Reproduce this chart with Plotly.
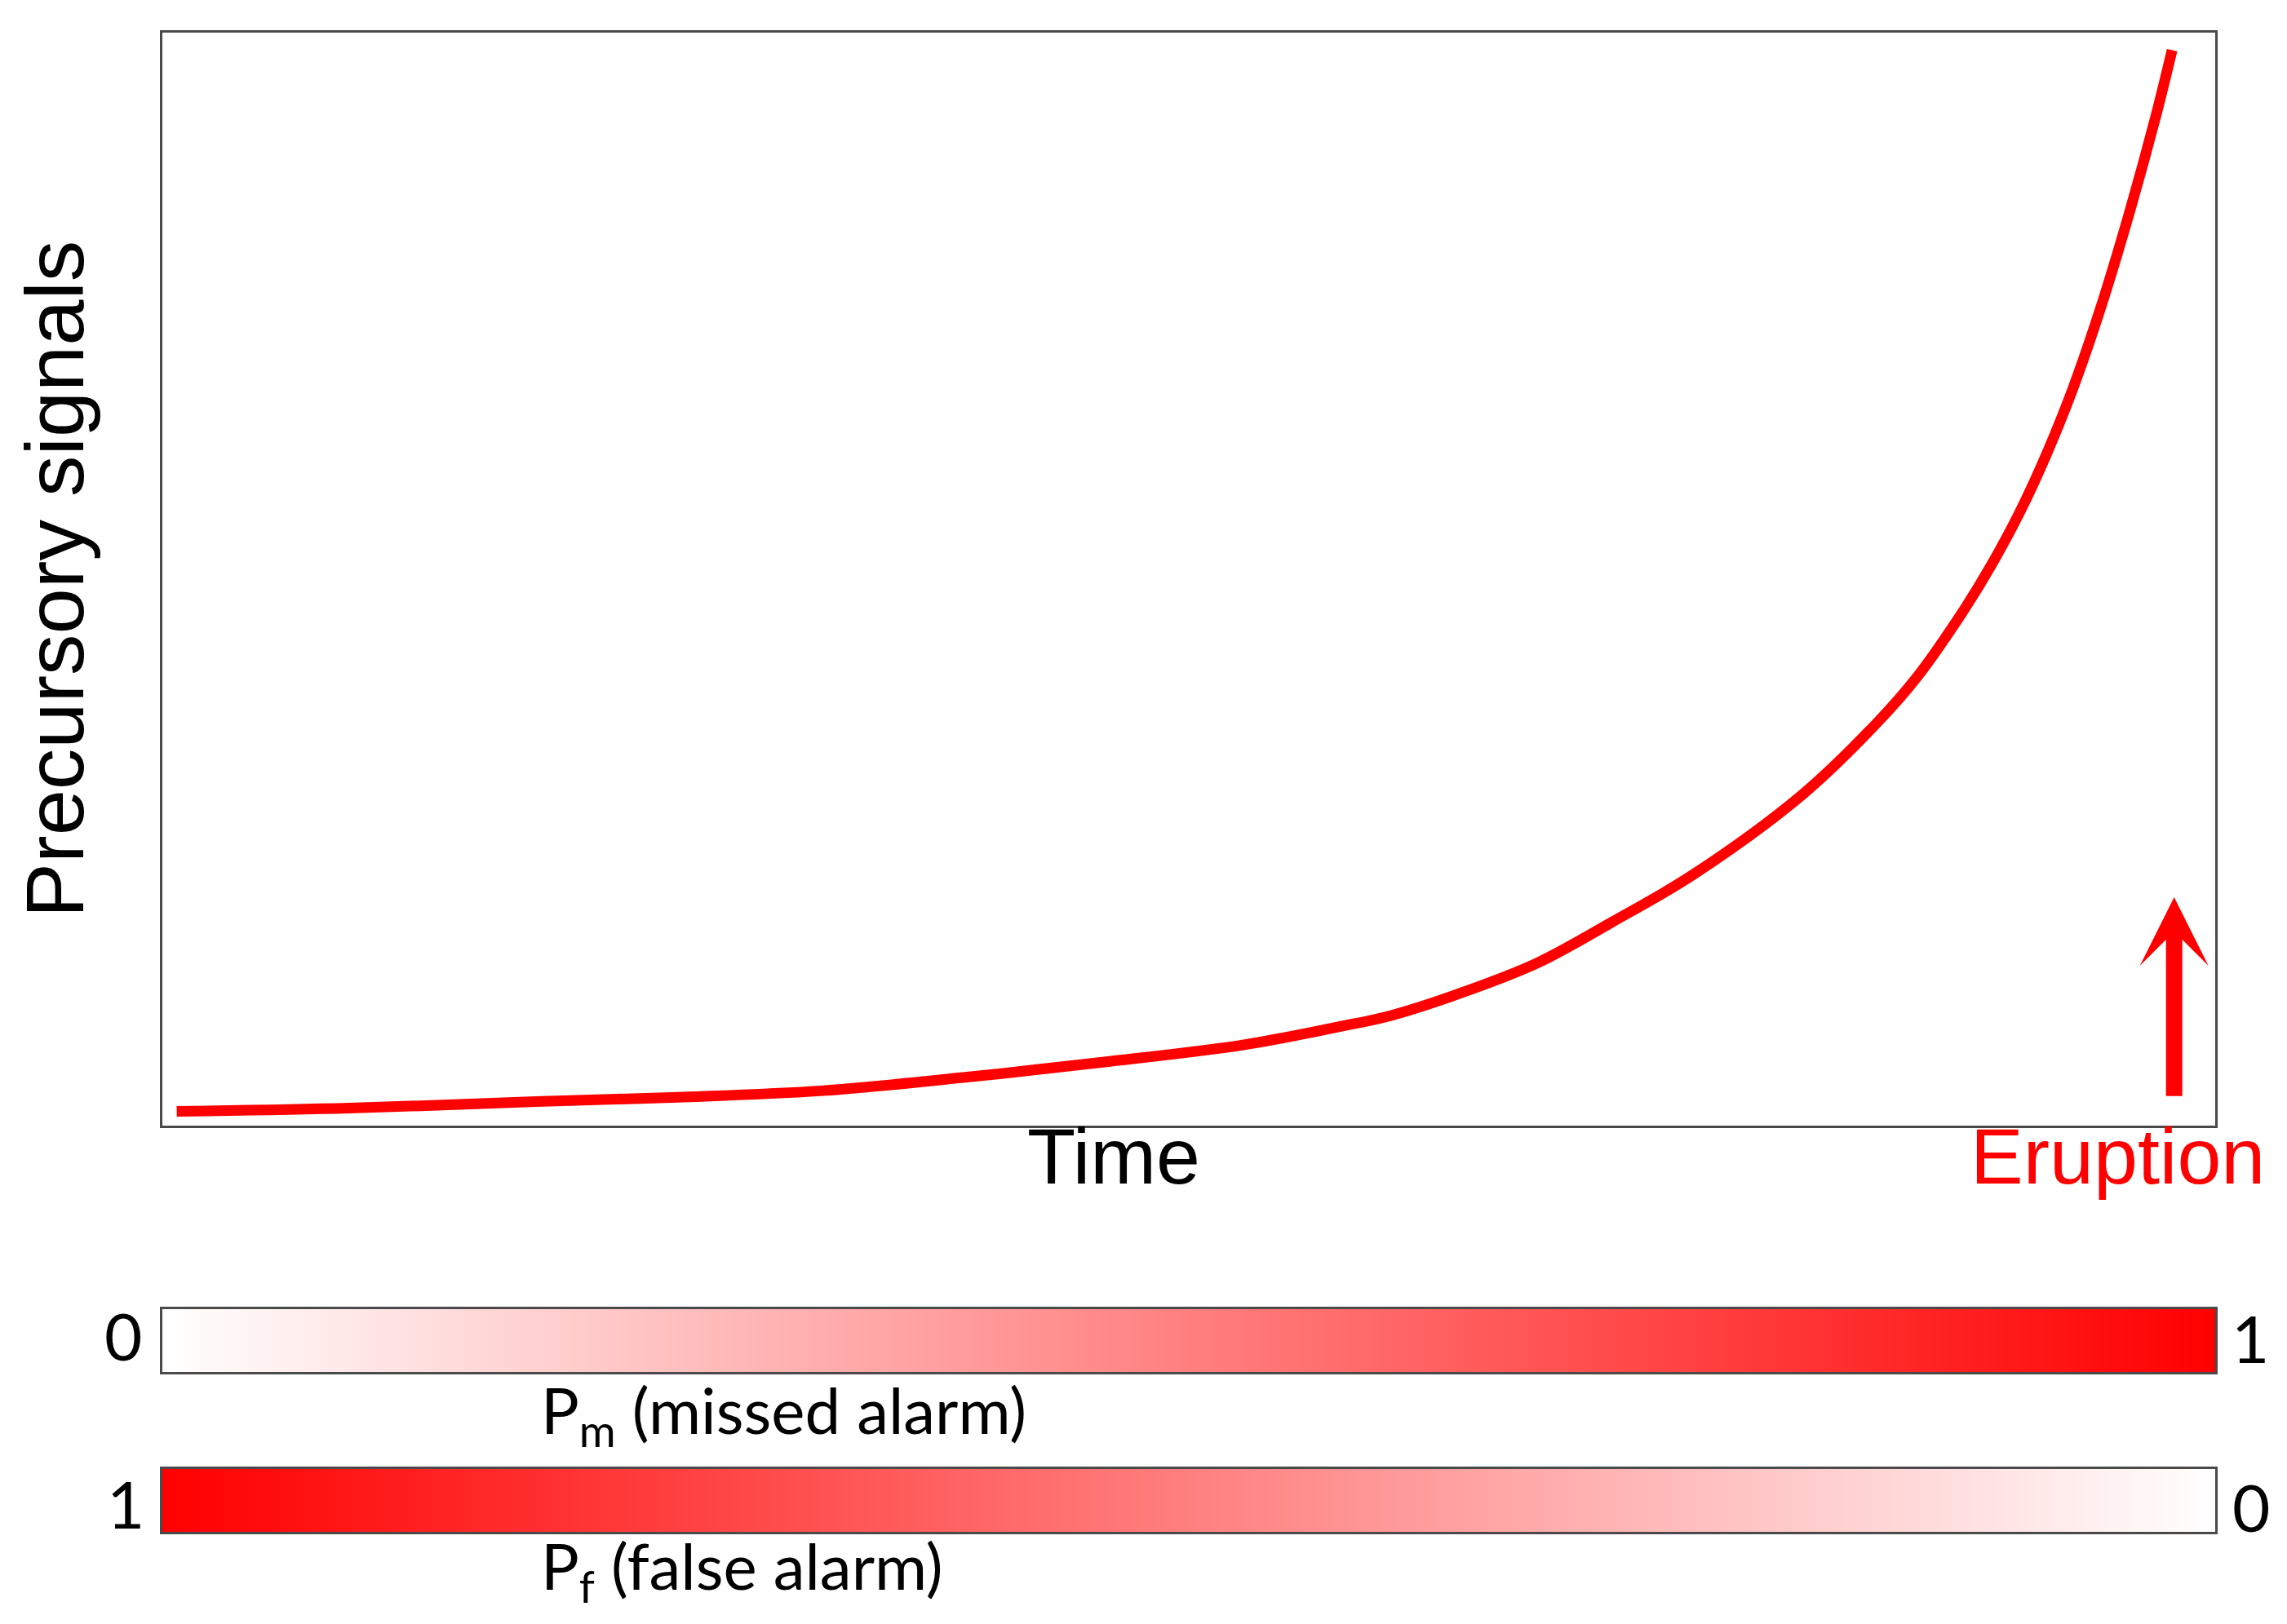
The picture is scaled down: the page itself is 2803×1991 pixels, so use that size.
import plotly.graph_objects as go

# ---- data ----
time = [0.7, 9.1, 18.2, 25.1, 32.2, 39.0, 45.8, 52.7, 57.2, 59.9, 63.5, 67.0,
        70.6, 74.6, 79.9, 83.5, 85.5, 87.8, 89.1, 90.5, 91.8, 93.1, 94.4, 95.8, 97.1, 97.9]
signal = [1.3, 1.6, 2.2, 2.6, 3.2, 4.4, 5.8, 7.4, 9.0, 10.1, 12.3, 14.9,
          18.6, 23.0, 30.3, 36.8, 41.1, 47.3, 51.3, 56.2, 61.5, 67.6, 74.7, 83.4, 92.3, 98.4]
eruption_time = 98.0
arrow_tail = 2.6
arrow_tip = 20.9

pm_values = [0, 1]   # missed alarm probability, left -> right
pf_values = [1, 0]   # false alarm probability, left -> right
bar_pos = [0, 1]

W, H = 2803, 1991
def px_x(v):
    return v / W
def px_y(v):
    return 1 - v / H

X0, X1 = 191, 2707
main_dom_y = [px_y(1372), px_y(32)]
bar1_dom_y = [px_y(1674), px_y(1597)]
bar2_dom_y = [px_y(1870), px_y(1793)]
dom_x = [px_x(X0), px_x(X1)]

RED = "#ff0000"
FRAME = "#4a4a4a"
scale = [[0, "#ffffff"], [1, RED]]

fig = go.Figure()

fig.add_trace(go.Scatter(
    x=time, y=signal, mode="lines",
    line=dict(color=RED, width=13, shape="spline", smoothing=1.0),
    xaxis="x", yaxis="y", showlegend=False, hoverinfo="skip"))

fig.add_trace(go.Heatmap(
    x=bar_pos, y=bar_pos, z=[pm_values, pm_values], zmin=0, zmax=1,
    colorscale=scale, zsmooth="best", showscale=False,
    xaxis="x2", yaxis="y2", hoverinfo="skip"))

fig.add_trace(go.Heatmap(
    x=bar_pos, y=bar_pos, z=[pf_values, pf_values], zmin=0, zmax=1,
    colorscale=scale, zsmooth="best", showscale=False,
    xaxis="x3", yaxis="y3", hoverinfo="skip"))

ax_common = dict(showgrid=False, zeroline=False, showticklabels=False, ticks="",
                 showline=True, mirror=True, linecolor=FRAME, linewidth=3, fixedrange=True)

fig.update_layout(
    width=W, height=H, autosize=False,
    margin=dict(l=0, r=0, t=0, b=0),
    paper_bgcolor="white", plot_bgcolor="white",
    font=dict(family="Liberation Sans, Arial, sans-serif", color="black"),
    xaxis=dict(domain=dom_x, range=[0, 100], anchor="y", **ax_common),
    yaxis=dict(domain=main_dom_y, range=[0, 100], anchor="x",
               title=dict(text="Precursory signals", font=dict(size=101), standoff=60),
               **ax_common),
    xaxis2=dict(domain=dom_x, range=[0, 1], anchor="y2", **ax_common),
    yaxis2=dict(domain=bar1_dom_y, range=[0, 1], anchor="x2", **ax_common),
    xaxis3=dict(domain=dom_x, range=[0, 1], anchor="y3", **ax_common),
    yaxis3=dict(domain=bar2_dom_y, range=[0, 1], anchor="x3", **ax_common),
)

# eruption arrow
fig.add_annotation(
    x=eruption_time, y=arrow_tip, ax=eruption_time, ay=arrow_tail,
    xref="x", yref="y", axref="x", ayref="y",
    showarrow=True, arrowhead=3, arrowsize=0.7, arrowwidth=20, arrowcolor=RED, text="")

sans = "Liberation Sans, Arial, sans-serif"
cal = "Lato, Carlito, Calibri, sans-serif"

annots = [
    dict(text="Time", x=px_x(1357), y=px_y(1409), size=97, color="black", fam=sans, xa="center"),
    dict(text="Eruption", x=px_x(2587), y=px_y(1409), size=97, color=RED, fam=sans, xa="center"),
    dict(text="0", x=px_x(143), y=px_y(1629), size=80, color="black", fam=cal, xa="center"),
    dict(text="1", x=px_x(2750), y=px_y(1632), size=80, color="black", fam=cal, xa="center"),
    dict(text="1", x=px_x(146), y=px_y(1835), size=80, color="black", fam=cal, xa="center"),
    dict(text="0", x=px_x(2751), y=px_y(1839), size=80, color="black", fam=cal, xa="center"),
    dict(text="P<sub>m</sub> (missed alarm)", x=px_x(653), y=px_y(1725), size=78, color="black", fam=cal, xa="left"),
    dict(text="P<sub>f</sub> (false alarm)", x=px_x(653), y=px_y(1916), size=78, color="black", fam=cal, xa="left"),
]
for a in annots:
    fig.add_annotation(text=a["text"], x=a["x"], y=a["y"], xref="paper", yref="paper",
                       xanchor=a["xa"], yanchor="middle", showarrow=False,
                       font=dict(size=a["size"], color=a["color"], family=a["fam"]))

fig.write_html("out.html")
